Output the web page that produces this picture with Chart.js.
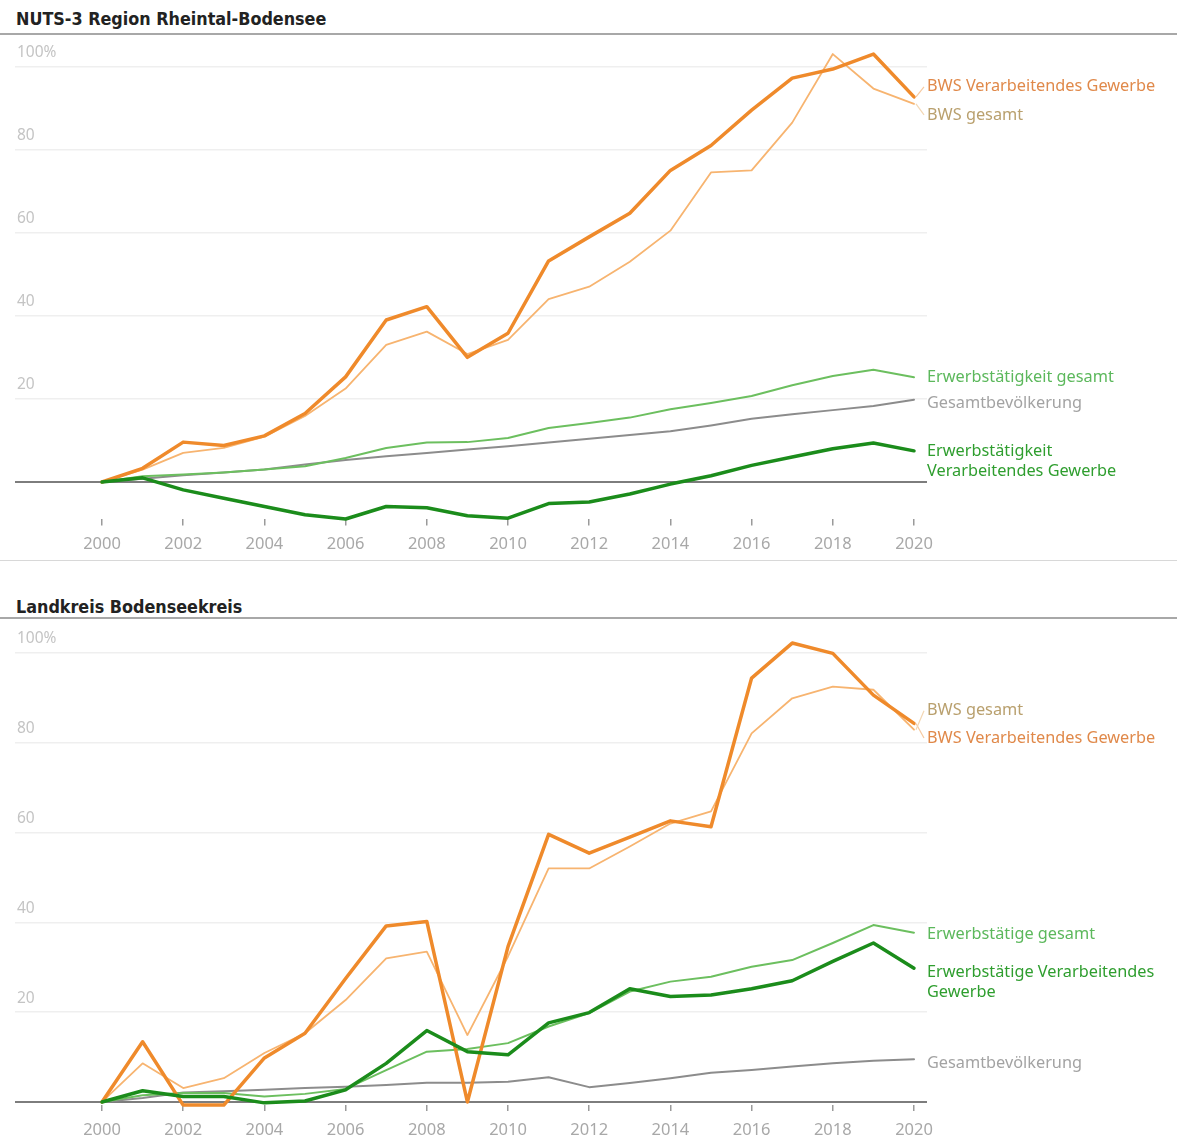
<!DOCTYPE html>
<html><head><meta charset="utf-8">
<script src="https://cdn.jsdelivr.net/npm/chart.js@4.4.1/dist/chart.umd.min.js"></script>
<style>
html,body{margin:0;padding:0;background:#fff;}
body{width:1177px;height:1140px;position:relative;overflow:hidden;}
.title{position:absolute;left:16px;font-family:"DejaVu Sans Condensed","DejaVu Sans",sans-serif;font-weight:bold;font-size:17.8px;color:#222;white-space:nowrap;}
.rule{position:absolute;left:0;width:1177px;}
.wrap{position:absolute;left:0;width:1177px;}
</style></head>
<body>
<div class="title" style="top:8px">NUTS-3 Region Rheintal-Bodensee</div>
<div class="rule" style="top:33px;height:2px;background:#a8a8a8"></div>
<div class="wrap" style="top:35px;height:526px"><canvas id="c1"></canvas></div>
<div class="rule" style="top:560px;height:1px;background:#d8d8d8"></div>
<div class="title" style="top:596px">Landkreis Bodenseekreis</div>
<div class="rule" style="top:617px;height:2px;background:#a8a8a8"></div>
<div class="wrap" style="top:619px;height:521px"><canvas id="c2"></canvas></div>
<script>
// ---- data ----
const YEARS = [2000,2001,2002,2003,2004,2005,2006,2007,2008,2009,2010,2011,2012,2013,2014,2015,2016,2017,2018,2019,2020];
const X_TICKS = [2000,2002,2004,2006,2008,2010,2012,2014,2016,2018,2020];
const Y_TICKS = [0,20,40,60,80,100];

// NUTS-3 Region Rheintal-Bodensee
const rbBwsVerarb = [0,3.3,9.6,8.8,11.1,16.5,25.3,39,42.2,30,35.8,53.2,59,64.7,75,81,89.5,97.2,99.4,103,92.7];
const rbBwsGesamt = [0,3,7,8.2,10.9,15.9,22.5,33,36.2,30.8,34.2,44,47,53,60.5,74.5,75,86.5,103,94.7,91];
const rbErwGesamt = [0,1.4,1.8,2.3,3,3.8,5.8,8.2,9.5,9.6,10.6,13,14.2,15.5,17.5,19,20.7,23.3,25.5,27,25.2];
const rbBevoelk   = [0,0.8,1.6,2.3,3,4.2,5.3,6.2,7,7.8,8.6,9.5,10.4,11.3,12.2,13.6,15.2,16.3,17.3,18.3,19.8];
const rbErwVerarb = [0,1,-1.9,-3.9,-5.9,-7.9,-8.9,-5.9,-6.2,-8.1,-8.7,-5.2,-4.8,-2.9,-0.5,1.5,4,6,8,9.4,7.5];

// Landkreis Bodenseekreis
const bsBwsVerarb = [0,13.4,-0.7,-0.7,9.8,15.3,27.5,39.2,40.2,0,34.6,59.6,55.4,59,62.6,61.3,94.4,102.2,99.9,90.6,84.3];
const bsBwsGesamt = [0,8.6,3.1,5.3,10.9,15.3,22.7,32,33.5,14.9,32.4,52,52,56.9,62,64.7,82.1,89.9,92.5,91.8,82.9];
const bsErwGesamt = [0,1.5,2,2,1.2,1.8,2.9,7.1,11.2,11.8,13.1,16.8,19.8,24.6,26.8,27.9,30.1,31.6,35.4,39.4,37.7];
const bsBevoelk   = [0,0.9,2.1,2.4,2.7,3.1,3.4,3.8,4.3,4.3,4.5,5.5,3.3,4.2,5.3,6.5,7.1,7.9,8.6,9.2,9.5];
const bsErwVerarb = [0,2.5,1.2,1.2,-0.2,0.2,2.7,8.6,15.9,11.2,10.5,17.6,19.9,25.2,23.5,23.8,25.2,27,31.3,35.4,29.8];

// ---- styles ----
const C_ORANGE = '#ef8a2b', C_ORANGE_LIGHT = '#f7b470', C_GREEN_LIGHT = '#6cbf5f', C_GREEN = '#1b8c1b', C_GRAY = '#8c8c8c';
const L_ORANGE = '#e0894a', L_TAN = '#b9a06e', L_GREEN_LIGHT = '#5cb85c', L_GREEN = '#2f9e2f', L_GRAY = '#a3a3a3';
const LABEL_FONT = '16.3px "Noto Sans", sans-serif';

function makeChart(id, cfg) {
  const datasets = cfg.series.map(s => ({
    label: s.name,
    data: YEARS.map((yr, i) => ({x: yr, y: s.values[i]})),
    borderColor: s.color, borderWidth: s.width, pointRadius: 0, tension: 0,
    clip: false, order: s.order, fill: false, borderJoinStyle: 'round', borderCapStyle: 'round'
  }));
  const deco = {
    id: 'deco' + id,
    beforeDatasetsDraw(chart) {
      const ctx = chart.ctx, ys = chart.scales.y;
      ctx.save();
      ctx.font = '15.5px "Noto Sans", sans-serif';
      ctx.fillStyle = '#c4c4c4';
      ctx.textBaseline = 'middle';
      ctx.textAlign = 'left';
      Y_TICKS.filter(v => v > 0).forEach(v => {
        ctx.fillText(v === 100 ? '100%' : String(v), 17, ys.getPixelForValue(v) - 14);
      });
      ctx.restore();
    },
    afterDatasetsDraw(chart) {
      const ctx = chart.ctx;
      ctx.save();
      ctx.font = LABEL_FONT;
      ctx.textBaseline = 'middle';
      ctx.textAlign = 'left';
      cfg.series.forEach((s, i) => {
        const meta = chart.getDatasetMeta(i);
        const last = meta.data[meta.data.length - 1];
        const ly = last.y + s.dy;
        if (Math.abs(s.dy) > 6) {
          ctx.strokeStyle = s.leader;
          ctx.lineWidth = 1.2;
          ctx.beginPath();
          ctx.moveTo(last.x + 2, last.y);
          ctx.lineTo(924, ly);
          ctx.stroke();
        }
        ctx.fillStyle = s.labelColor;
        s.labelLines.forEach((t, k) => ctx.fillText(t, 927, ly + k * 20));
      });
      ctx.restore();
    }
  };
  return new Chart(document.getElementById(id), {
    type: 'line',
    data: {datasets},
    options: {
      responsive: true, maintainAspectRatio: false, animation: false,
      layout: {padding: {left: 15, right: 250, top: cfg.padTop, bottom: 0}},
      plugins: {legend: {display: false}, tooltip: {enabled: false}},
      scales: {
        x: {
          type: 'linear', min: 1997.857, max: 2020.32,
          afterBuildTicks: sc => { sc.ticks = X_TICKS.map(v => ({value: v})); },
          afterFit: sc => { sc.height = cfg.xHeight; },
          grid: {drawOnChartArea: false, drawTicks: true, tickLength: 6, color: '#9a9a9a', lineWidth: 1.5},
          border: {display: false},
          ticks: {callback: v => String(v), color: '#a8a8a8', font: {family: '"Noto Sans"', size: 16.5}, padding: 9, maxRotation: 0, autoSkip: false}
        },
        y: {
          min: cfg.yMin, max: cfg.yMax,
          afterBuildTicks: sc => { sc.ticks = Y_TICKS.map(v => ({value: v})); },
          afterFit: sc => { sc.width = 0; },
          grid: {drawTicks: false, color: c => (c.tick && c.tick.value === 0) ? '#7d7d7d' : '#efefef',
                 lineWidth: c => (c.tick && c.tick.value === 0) ? 2 : 1.5},
          border: {display: false},
          ticks: {display: false}
        }
      }
    },
    plugins: [deco]
  });
}

makeChart('c1', {
  padTop: 6.6, xHeight: 41.6, yMin: -9, yMax: 106,
  series: [
    {name: 'BWS Verarbeitendes Gewerbe', values: rbBwsVerarb, color: C_ORANGE, width: 3.5, order: 1, dy: -10, labelColor: L_ORANGE, leader: '#f6c9a0', labelLines: ['BWS Verarbeitendes Gewerbe']},
    {name: 'BWS gesamt', values: rbBwsGesamt, color: C_ORANGE_LIGHT, width: 1.8, order: 3, dy: 11, labelColor: L_TAN, leader: '#f3d7b4', labelLines: ['BWS gesamt']},
    {name: 'Erwerbstätigkeit gesamt', values: rbErwGesamt, color: C_GREEN_LIGHT, width: 2, order: 4, dy: 0, labelColor: L_GREEN_LIGHT, leader: '#bde3b5', labelLines: ['Erwerbstätigkeit gesamt']},
    {name: 'Gesamtbevölkerung', values: rbBevoelk, color: C_GRAY, width: 2, order: 5, dy: 4, labelColor: L_GRAY, leader: '#d0d0d0', labelLines: ['Gesamtbevölkerung']},
    {name: 'Erwerbstätigkeit Verarbeitendes Gewerbe', values: rbErwVerarb, color: C_GREEN, width: 3.5, order: 0, dy: 1, labelColor: L_GREEN, leader: '#a9d8a9', labelLines: ['Erwerbstätigkeit', 'Verarbeitendes Gewerbe']}
  ]
});

makeChart('c2', {
  padTop: 2.5, xHeight: 34.9, yMin: -0.7, yMax: 107,
  series: [
    {name: 'BWS Verarbeitendes Gewerbe', values: bsBwsVerarb, color: C_ORANGE, width: 3.5, order: 1, dy: 14.5, labelColor: L_ORANGE, leader: '#f6c9a0', labelLines: ['BWS Verarbeitendes Gewerbe']},
    {name: 'BWS gesamt', values: bsBwsGesamt, color: C_ORANGE_LIGHT, width: 1.8, order: 3, dy: -19, labelColor: L_TAN, leader: '#f3d7b4', labelLines: ['BWS gesamt']},
    {name: 'Erwerbstätige gesamt', values: bsErwGesamt, color: C_GREEN_LIGHT, width: 2, order: 4, dy: 2, labelColor: L_GREEN_LIGHT, leader: '#bde3b5', labelLines: ['Erwerbstätige gesamt']},
    {name: 'Gesamtbevölkerung', values: bsBevoelk, color: C_GRAY, width: 2, order: 5, dy: 4, labelColor: L_GRAY, leader: '#d0d0d0', labelLines: ['Gesamtbevölkerung']},
    {name: 'Erwerbstätige Verarbeitendes Gewerbe', values: bsErwVerarb, color: C_GREEN, width: 3.5, order: 0, dy: 4, labelColor: L_GREEN, leader: '#a9d8a9', labelLines: ['Erwerbstätige Verarbeitendes', 'Gewerbe']}
  ]
});
</script>
</body></html>
